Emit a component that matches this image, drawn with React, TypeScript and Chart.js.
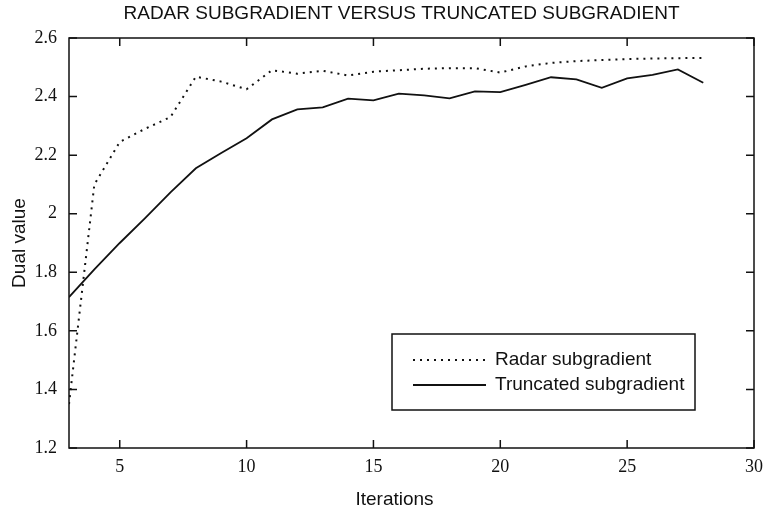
import React, { useEffect, useRef } from "react";
import { Chart, registerables } from "chart.js";

Chart.register(...registerables);

const titleText = "RADAR SUBGRADIENT VERSUS TRUNCATED SUBGRADIENT";
const xAxisLabel = "Iterations";
const yAxisLabel = "Dual value";

const iterations = [3, 4, 5, 6, 7, 8, 9, 10, 11, 12, 13, 14, 15, 16, 17, 18, 19, 20, 21, 22, 23, 24, 25, 26, 27, 28];
const radarValues = [1.35, 2.1, 2.245, 2.29, 2.33, 2.468, 2.451, 2.425, 2.49, 2.478, 2.488, 2.472, 2.485, 2.49, 2.495, 2.497, 2.497, 2.482, 2.503, 2.515, 2.521, 2.525, 2.528, 2.53, 2.531, 2.532];
const truncatedValues = [1.715, 1.81, 1.9, 1.985, 2.073, 2.155, 2.207, 2.258, 2.322, 2.356, 2.363, 2.393, 2.387, 2.41, 2.404, 2.394, 2.418, 2.415, 2.44, 2.466, 2.459, 2.43, 2.462, 2.474, 2.493, 2.447];

const seriesNames = ["Radar subgradient", "Truncated subgradient"];
const xTicks = [5, 10, 15, 20, 25, 30];
const yTicks = [1.2, 1.4, 1.6, 1.8, 2.0, 2.2, 2.4, 2.6];
const yTickLabels = ["1.2", "1.4", "1.6", "1.8", "2", "2.2", "2.4", "2.6"];

const INK = "#111";
const SANS = "'Liberation Sans', Arial, Helvetica, sans-serif";
const SERIF = "'Liberation Serif', 'Times New Roman', serif";

const framePlugin = {
  id: "frameAndLegend",
  afterDraw(chart: any) {
    const { ctx, chartArea } = chart;
    const { left, right, top, bottom } = chartArea;
    const xs = chart.scales.x;
    const ys = chart.scales.y;
    const cx = (left + right) / 2;
    const cy = (top + bottom) / 2;
    ctx.save();

    // title and axis labels
    ctx.fillStyle = INK;
    ctx.font = `19px ${SANS}`;
    ctx.textAlign = "center";
    ctx.textBaseline = "middle";
    ctx.fillText(titleText, cx - 10, top - 24);
    ctx.fillText(xAxisLabel, cx - 17, bottom + 52);
    ctx.save();
    ctx.translate(left - 49, cy);
    ctx.rotate(-Math.PI / 2);
    ctx.fillText(yAxisLabel, 0, 0);
    ctx.restore();

    // frame and inward ticks
    ctx.strokeStyle = INK;
    ctx.lineWidth = 1.5;
    ctx.strokeRect(left, top, right - left, bottom - top);
    const tl = 8;
    ctx.beginPath();
    xTicks.forEach((v) => {
      const px = xs.getPixelForValue(v);
      ctx.moveTo(px, bottom);
      ctx.lineTo(px, bottom - tl);
      ctx.moveTo(px, top);
      ctx.lineTo(px, top + tl);
    });
    yTicks.forEach((v) => {
      const py = ys.getPixelForValue(v);
      ctx.moveTo(left, py);
      ctx.lineTo(left + tl, py);
      ctx.moveTo(right, py);
      ctx.lineTo(right - tl, py);
    });
    ctx.stroke();

    // legend box
    const bx = right - 362;
    const by = bottom - 114;
    const bw = 303;
    const bh = 76;
    ctx.fillStyle = "#fff";
    ctx.fillRect(bx, by, bw, bh);
    ctx.lineWidth = 1.5;
    ctx.strokeRect(bx, by, bw, bh);
    const datasets = chart.data.datasets;
    const rows = [by + 26, by + 51];
    datasets.forEach((ds: any, i: number) => {
      const y = rows[i];
      ctx.beginPath();
      ctx.lineWidth = ds.borderWidth;
      ctx.setLineDash(ds.borderDash || []);
      ctx.strokeStyle = ds.borderColor;
      ctx.moveTo(bx + 21, y);
      ctx.lineTo(bx + 94, y);
      ctx.stroke();
      ctx.setLineDash([]);
      ctx.fillStyle = INK;
      ctx.font = `19px ${SANS}`;
      ctx.textBaseline = "middle";
      ctx.textAlign = "left";
      ctx.fillText(ds.label, bx + 103, y);
    });
    ctx.restore();
  },
};

export default function App() {
  const ref = useRef<HTMLCanvasElement | null>(null);
  useEffect(() => {
    if (!ref.current) return;
    const chart = new Chart(ref.current, {
      type: "line",
      data: {
        datasets: [
          {
            label: seriesNames[0],
            data: iterations.map((x, i) => ({ x, y: radarValues[i] })),
            borderColor: INK,
            borderWidth: 2,
            borderDash: [2, 5],
            pointRadius: 0,
            tension: 0,
            fill: false,
          },
          {
            label: seriesNames[1],
            data: iterations.map((x, i) => ({ x, y: truncatedValues[i] })),
            borderColor: INK,
            borderWidth: 1.8,
            pointRadius: 0,
            tension: 0,
            fill: false,
          },
        ],
      },
      options: {
        responsive: false,
        animation: false,
        layout: { padding: { left: 0, right: 12, top: 38, bottom: 0 } },
        plugins: {
          legend: { display: false },
          tooltip: { enabled: false },
          title: { display: false },
        },
        scales: {
          x: {
            type: "linear",
            min: 3,
            max: 30,
            afterBuildTicks: (s: any) => {
              s.ticks = xTicks.map((v) => ({ value: v }));
            },
            afterFit: (s: any) => {
              s.height = 67;
              s.paddingLeft = 0;
              s.paddingRight = 0;
            },
            grid: { display: false, drawTicks: false },
            border: { display: false },
            ticks: {
              color: INK,
              padding: 8,
              maxRotation: 0,
              font: { family: SERIF, size: 18 },
              callback: (v: any) => String(v),
            },
          },
          y: {
            type: "linear",
            min: 1.2,
            max: 2.6,
            afterBuildTicks: (s: any) => {
              s.ticks = yTicks.map((v) => ({ value: v }));
            },
            afterFit: (s: any) => {
              s.width = 69;
              s.paddingTop = 0;
              s.paddingBottom = 0;
            },
            grid: { display: false, drawTicks: false },
            border: { display: false },
            ticks: {
              color: INK,
              padding: 12,
              font: { family: SERIF, size: 18 },
              callback: (v: any) => {
                const i = yTicks.findIndex((t) => Math.abs(t - v) < 1e-6);
                return i >= 0 ? yTickLabels[i] : "";
              },
            },
          },
        },
      } as any,
      plugins: [framePlugin],
    });
    return () => chart.destroy();
  }, []);
  return (
    <div style={{ position: "absolute", left: 0, top: 0, width: 766, height: 515, background: "#fff" }}>
      <canvas ref={ref} width={766} height={515} />
    </div>
  );
}
